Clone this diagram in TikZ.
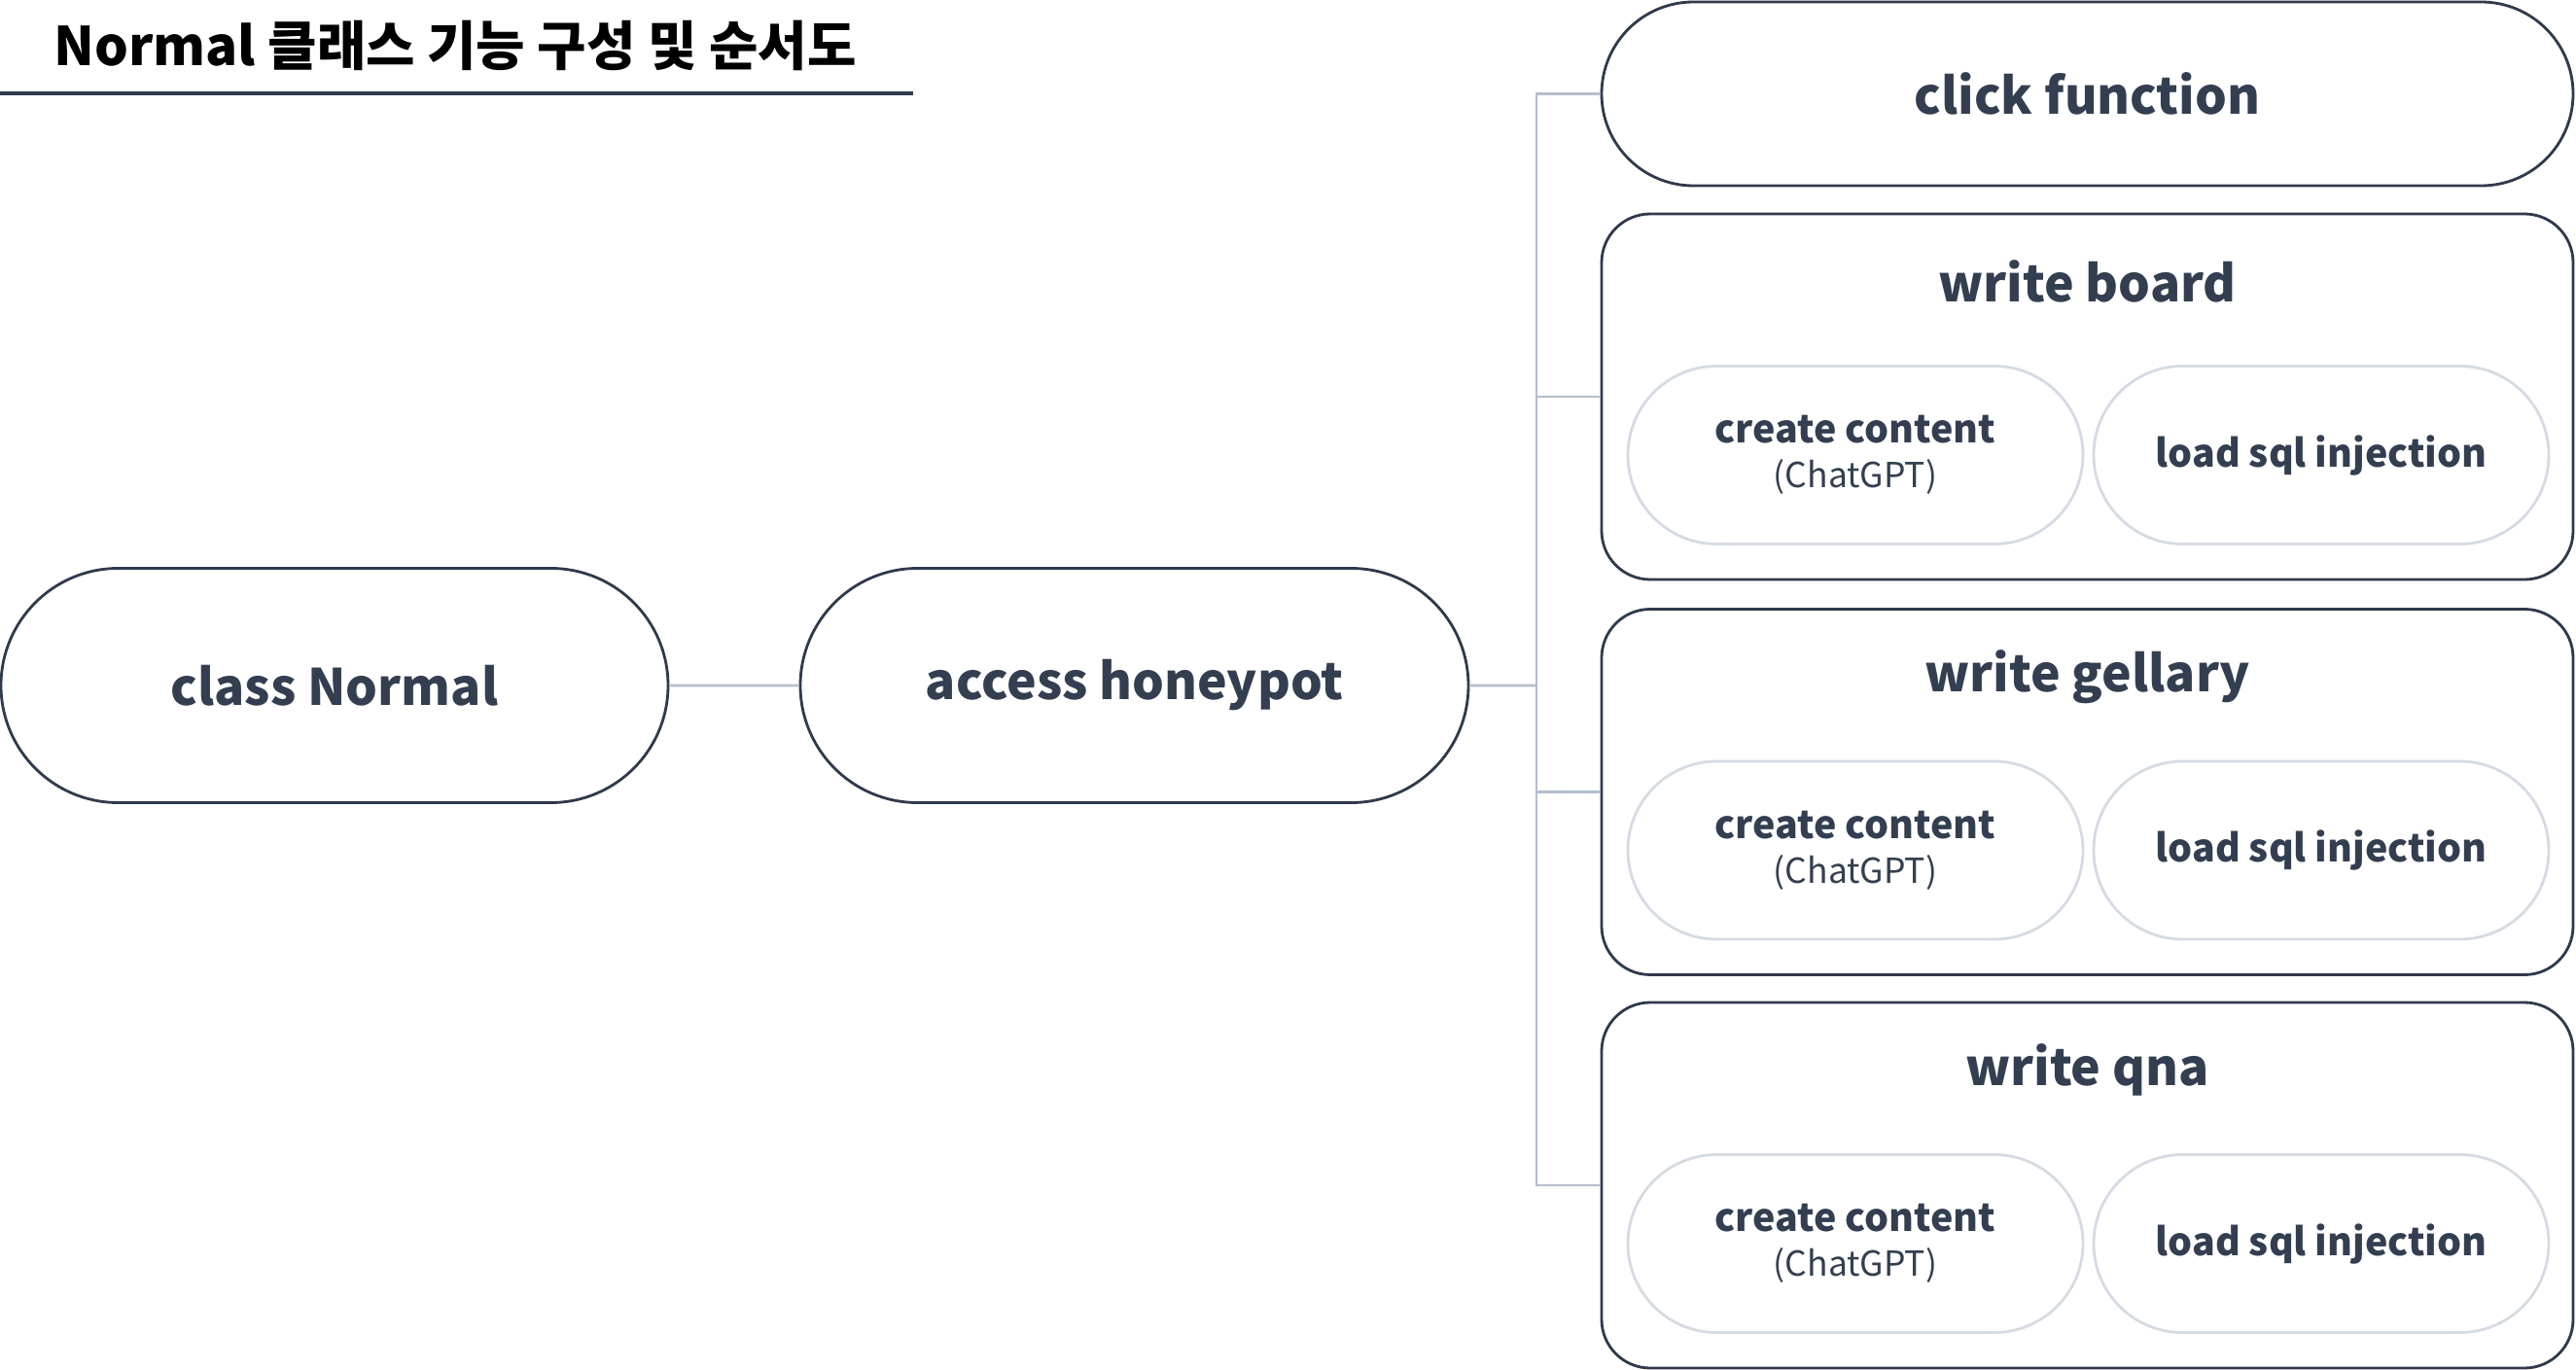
\documentclass[tikz,border=0pt]{standalone}
\usepackage{fontspec}
\setmainfont{Noto Sans CJK KR}
\usetikzlibrary{shapes.misc}
\definecolor{ink}{HTML}{333F50}
\definecolor{edge}{HTML}{2F3A4B}
\definecolor{wirecol}{HTML}{B4BECC}
\definecolor{soft}{HTML}{D5DBE3}
\begin{document}
\begin{tikzpicture}[
	pill/.style={rounded rectangle,draw=edge,line width=0.8pt,fill=white,text=ink,inner sep=0pt,font=\fontsize{14.7}{17}\selectfont\bfseries},
	group/.style={rectangle,rounded corners=0.5cm,draw=edge,line width=0.8pt,minimum width=9.99cm,minimum height=3.76cm},
	task/.style={rounded rectangle,draw=soft,line width=0.8pt,minimum width=4.68cm,minimum height=1.83cm,text=ink,inner sep=0pt,align=center,font=\fontsize{11.2}{13}\selectfont\bfseries},
	head/.style={text=ink,font=\fontsize{14.7}{17}\selectfont\bfseries},
	wire/.style={draw=wirecol,line width=0.8pt}]
	\useasboundingbox (0,0) rectangle (26.49,-14.09);
	\node[font=\fontsize{15.6}{18}\selectfont\bfseries] (title) at (4.68,-0.47) {Normal 클래스 기능 구성 및 순서도};
	\draw[edge,line width=0.9pt] (0,-0.96) -- (9.39,-0.96);
	\node[pill,minimum width=6.86cm,minimum height=2.41cm] (normal) at (3.44,-7.05) {class Normal};
	\node[pill,minimum width=6.87cm,minimum height=2.41cm] (honeypot) at (11.665,-7.05) {access honeypot};
	\node[pill,minimum width=9.99cm,minimum height=1.89cm] (click) at (21.465,-0.965) {click function};
	\node[group] (board) at (21.465,-4.08) {};
	\node[group] (gellary) at (21.465,-8.145) {};
	\node[group] (qna) at (21.465,-12.19) {};
	\foreach \g/\t in {board/write board,gellary/write gellary,qna/write qna} {
		\node[head] (\g-head) at ([yshift=-0.71cm]\g.north) {\t};
		\node[task] (\g-create) at ([xshift=-2.385cm,yshift=-0.6cm]\g.center) {create content\\{\mdseries\fontsize{10.1}{13}\selectfont (ChatGPT)}};
		\node[task] (\g-load) at ([xshift=2.405cm,yshift=-0.6cm]\g.center) {load sql injection};
	}
	\coordinate (fork) at (15.80,-7.05);
	\draw[wire] (normal) -- (honeypot);
	\draw[wire] (honeypot) -- (fork);
	\foreach \n in {click,board,gellary,qna}
		\draw[wire] (fork) |- (\n.west);
\end{tikzpicture}
\end{document}
